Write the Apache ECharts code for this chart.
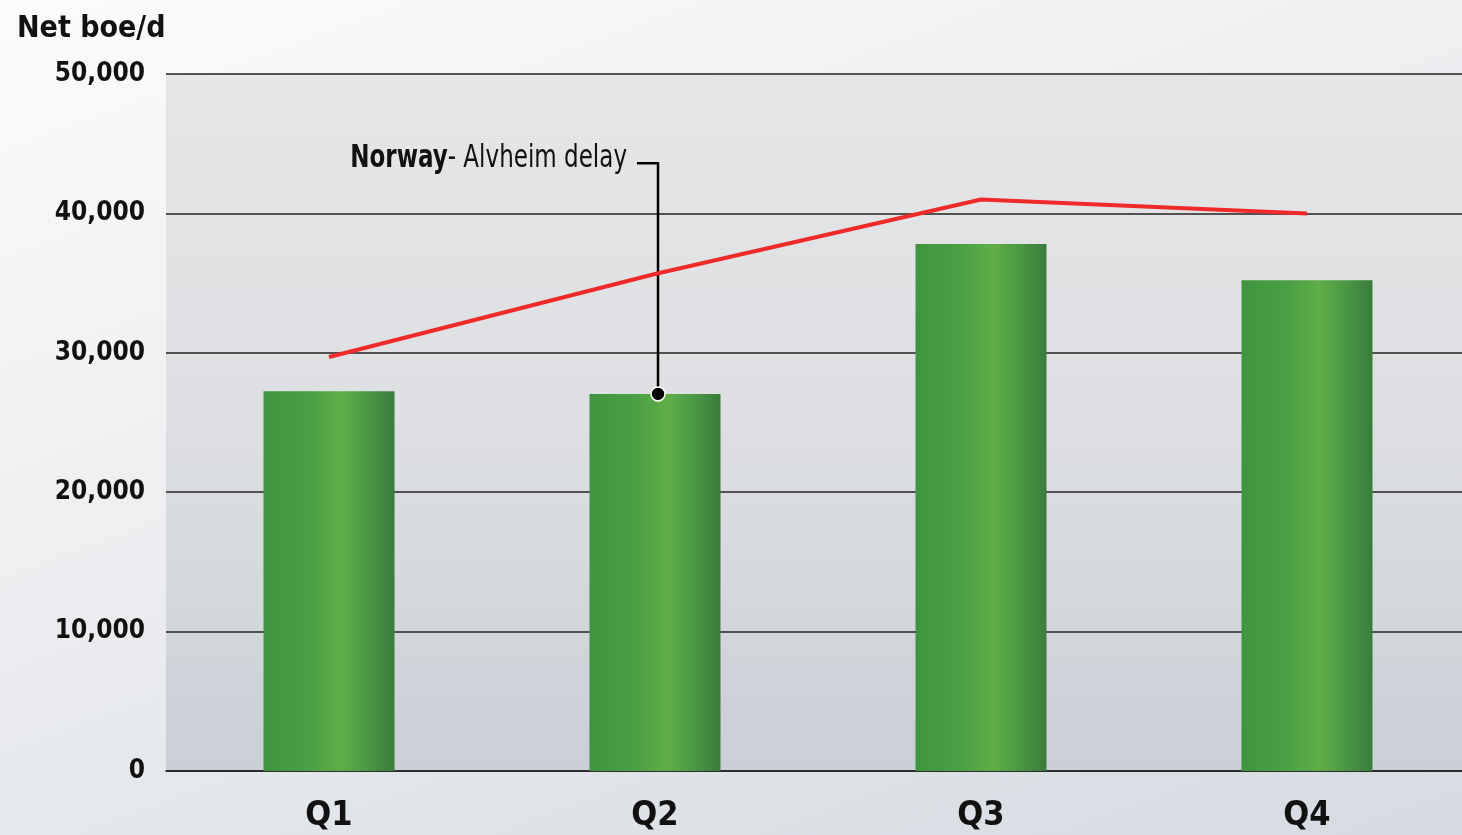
<!DOCTYPE html>
<html>
<head>
<meta charset="utf-8">
<script src="https://cdn.jsdelivr.net/npm/echarts@6/dist/echarts.min.js"></script>
<style>
html,body{margin:0;padding:0;width:1462px;height:835px;overflow:hidden;}
#main{width:1462px;height:835px;background:linear-gradient(160deg,#fbfbfb 0%,#eeeff1 40%,#dfe3e8 75%,#d6dbe2 100%);}
</style>
</head>
<body>
<div id="main"></div>
<script>
const categories = ['Q1', 'Q2', 'Q3', 'Q4'];
const productionBars = [27250, 27050, 37800, 35200];
const guidanceLine = [29700, 35650, 41000, 40000];
const yTicks = { min: 0, max: 50000, interval: 10000 };
const titleText = 'Net boe/d';
const noteBold = 'Norway';
const noteRest = '- Alvheim delay';
const noteCategoryIndex = 1;

const FONT = "'Liberation Sans Narrow','DejaVu Sans Condensed','Open Sans',sans-serif";
const chart = echarts.init(document.getElementById('main'), null, { renderer: 'canvas' });

const option = {
  backgroundColor: 'transparent',
  animation: false,
  title: {
    text: titleText, left: 12, top: 9,
    textStyle: { fontFamily: FONT, fontWeight: 'bold', fontSize: 30, color: '#111' }
  },
  grid: {
    left: 166, right: -8, top: 74, bottom: 64,
    outerBoundsMode: 'none', containLabel: false,
    show: true, borderWidth: 0,
    backgroundColor: {
      type: 'linear', x: 0, y: 0, x2: 0, y2: 1,
      colorStops: [{ offset: 0, color: '#e6e6e7' }, { offset: 0.5, color: '#dddfe2' }, { offset: 1, color: '#cbcfd6' }]
    }
  },
  xAxis: {
    type: 'category', data: categories, boundaryGap: true,
    axisLine: { show: true, lineStyle: { color: '#222', width: 1.6 } },
    axisTick: { show: false },
    axisLabel: { margin: 28, fontFamily: FONT, fontWeight: 'bold', fontSize: 34, color: '#111' }
  },
  yAxis: {
    type: 'value', min: yTicks.min, max: yTicks.max, interval: yTicks.interval,
    axisLine: { show: false }, axisTick: { show: false },
    splitLine: { show: true, lineStyle: { color: '#222', width: 1.6 } },
    axisLabel: {
      margin: 21, fontFamily: FONT, fontWeight: 'bold', fontSize: 26, color: '#111',
      formatter: v => v.toLocaleString('en-US')
    }
  },
  series: [
    {
      type: 'bar', data: productionBars, barWidth: 131, z: 2,
      itemStyle: {
        color: {
          type: 'linear', x: 0, y: 0, x2: 1, y2: 0,
          colorStops: [
            { offset: 0, color: '#3f953f' },
            { offset: 0.35, color: '#4b9f44' },
            { offset: 0.6, color: '#5fae48' },
            { offset: 0.8, color: '#4a9744' },
            { offset: 1, color: '#3a7c3c' }
          ]
        }
      }
    },
    {
      type: 'line', data: guidanceLine, z: 5, showSymbol: false, symbol: 'none',
      lineStyle: { color: '#ee2a2a', width: 4 }
    }
  ]
};
chart.setOption(option);

// annotation positioned from the data scale
const anchor = chart.convertToPixel({ xAxisIndex: 0, yAxisIndex: 0 }, [noteCategoryIndex, productionBars[noteCategoryIndex]]);
const ax = anchor[0] + 3, ay = anchor[1];
const textY = chart.convertToPixel({ yAxisIndex: 0 }, 43600);
chart.setOption({
  graphic: [
    {
      type: 'polyline', z: 3,
      shape: { points: [[ax - 21, textY], [ax, textY], [ax, ay]] },
      style: { stroke: '#000', lineWidth: 2.5, fill: null }
    },
    {
      type: 'circle', z: 10,
      shape: { cx: ax, cy: ay, r: 7 },
      style: { fill: '#000', stroke: '#fff', lineWidth: 1.5 }
    },
    {
      type: 'text', z: 10,
      x: ax - 31, y: textY - 5, scaleX: 0.8,
      style: {
        text: '{b|' + noteBold + '}{r|' + noteRest + '}',
        align: 'right', verticalAlign: 'middle',
        rich: {
          b: { fontFamily: FONT, fontWeight: 'bold', fontSize: 32, fill: '#111' },
          r: { fontFamily: FONT, fontWeight: 'normal', fontSize: 32, fill: '#111' }
        }
      }
    }
  ]
});
</script>
</body>
</html>
